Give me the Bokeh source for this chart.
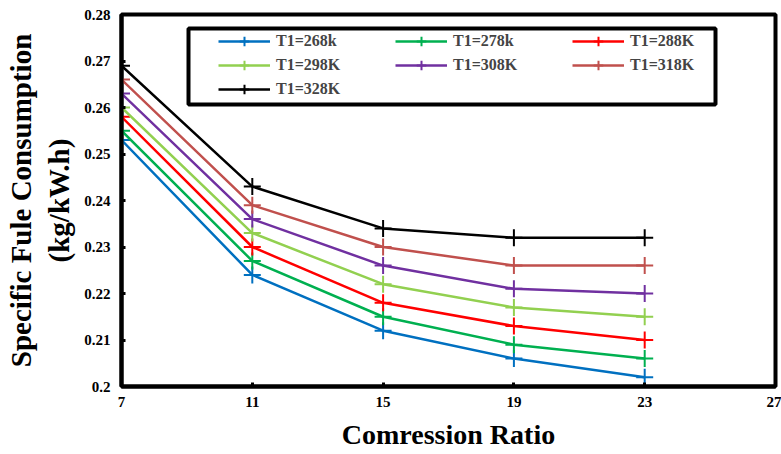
from bokeh.plotting import figure
from bokeh.models import Legend, LegendItem, BoxAnnotation, FixedTicker, CustomJSTickFormatter, Range1d
from bokeh.embed import file_html
from bokeh.resources import INLINE

compression_ratio = [7, 11, 15, 19, 23]
sfc_268 = [0.253, 0.224, 0.212, 0.206, 0.202]
sfc_278 = [0.255, 0.227, 0.215, 0.209, 0.206]
sfc_288 = [0.258, 0.230, 0.218, 0.213, 0.210]
sfc_298 = [0.260, 0.233, 0.222, 0.217, 0.215]
sfc_308 = [0.263, 0.236, 0.226, 0.221, 0.220]
sfc_318 = [0.266, 0.239, 0.230, 0.226, 0.226]
sfc_328 = [0.269, 0.243, 0.234, 0.232, 0.232]
series_labels = ["T1=268k", "T1=278k", "T1=288K", "T1=298K", "T1=308K", "T1=318K", "T1=328K"]
series_values = [sfc_268, sfc_278, sfc_288, sfc_298, sfc_308, sfc_318, sfc_328]
series_colors = ["#0070C0", "#00B050", "#FF0000", "#92D050", "#7030A0", "#C0504D", "#000000"]
x_ticks = [7, 11, 15, 19, 23, 27]
y_ticks = [0.2, 0.21, 0.22, 0.23, 0.24, 0.25, 0.26, 0.27, 0.28]

FONT = "Liberation Serif"

p = figure(width=781, height=454, output_backend="svg", toolbar_location=None,
           x_range=Range1d(7, 27), y_range=Range1d(0.2, 0.28),
           min_border_left=121, min_border_right=6, min_border_top=14, min_border_bottom=68)
p.grid.visible = False
p.outline_line_color = "black"
p.outline_line_width = 4

items = []
for lab, vals, col in zip(series_labels, series_values, series_colors):
    r1 = p.line(compression_ratio, vals, line_color=col, line_width=2.5)
    r2 = p.scatter(compression_ratio, vals, marker="cross", size=17, line_color=col, line_width=2)
    items.append(LegendItem(label=lab, renderers=[r1, r2]))

for ax in (p.xaxis[0], p.yaxis[0]):
    ax.axis_line_width = 4
    ax.axis_line_color = "black"
    ax.major_tick_in = 4
    ax.major_tick_out = 0
    ax.major_tick_line_width = 3
    ax.minor_tick_line_color = None
    ax.major_label_text_font = FONT
    ax.major_label_text_font_style = "bold"
    ax.major_label_text_color = "black"
    ax.axis_label_text_font = FONT
    ax.axis_label_text_font_style = "bold"
    ax.axis_label_text_color = "black"

p.xaxis.ticker = FixedTicker(ticks=x_ticks)
p.yaxis.ticker = FixedTicker(ticks=y_ticks)
p.yaxis.formatter = CustomJSTickFormatter(code="return tick.toFixed(2).replace(/0$/, '');")
p.xaxis.major_label_text_font_size = "15px"
p.yaxis.major_label_text_font_size = "15px"
p.xaxis.major_label_standoff = 10
p.yaxis.major_label_standoff = 11
p.xaxis.axis_label = "Comression Ratio"
p.xaxis.axis_label_text_font_size = "28px"
p.xaxis.axis_label_standoff = 9
p.yaxis.axis_label = "Specific Fule Consumption\n(kg/kW.h)"
p.yaxis.axis_label_text_font_size = "29px"
p.yaxis.axis_label_standoff = 6

box = BoxAnnotation(left=67, right=594, bottom=282, top=358,
                    left_units="screen", right_units="screen", top_units="screen", bottom_units="screen",
                    fill_alpha=0, line_color="black", line_alpha=1.0, line_width=4)
p.add_layout(box)

legend = Legend(items=items, location=(97, 285), orientation="horizontal", ncols=3,
                padding=0, margin=0, spacing=0, glyph_width=52, glyph_height=24,
                label_height=24, label_width=119, label_standoff=6,
                label_text_font=FONT, label_text_font_style="bold", label_text_font_size="16px",
                background_fill_alpha=0, border_line_alpha=0)
p.add_layout(legend, "center")

open("out.html", "w").write(file_html(p, INLINE))
